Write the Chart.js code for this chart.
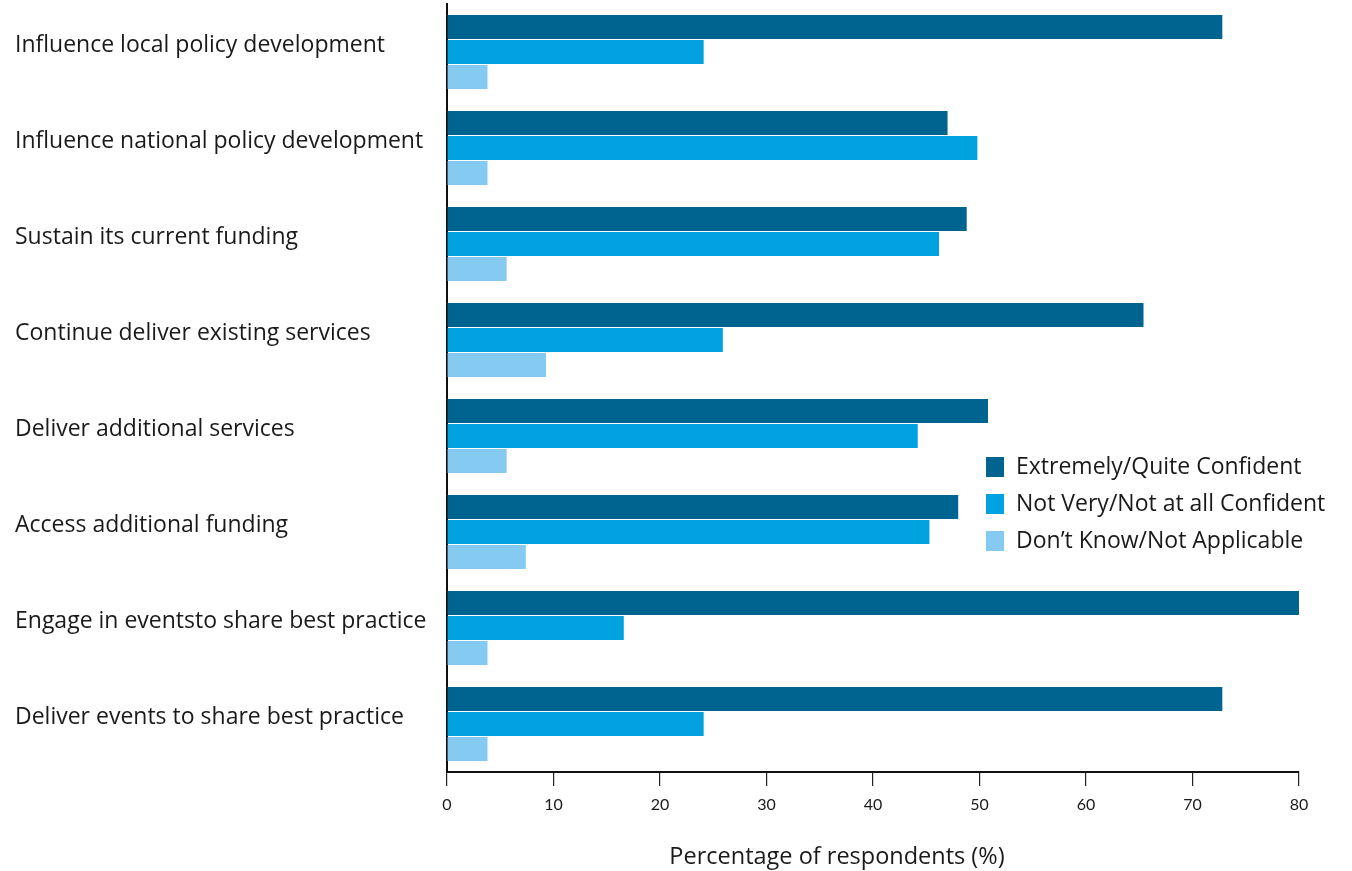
<!DOCTYPE html>
<html>
<head>
<meta charset="utf-8">
<script src="https://cdn.jsdelivr.net/npm/chart.js@4.4.1/dist/chart.umd.min.js"></script>
<style>
  html, body { margin: 0; padding: 0; background: #fff; }
  #wrap { width: 1352px; height: 871px; }
</style>
</head>
<body>
<div id="wrap"><canvas id="chart"></canvas></div>
<script>
const categories = [
  "Influence local policy development",
  "Influence national policy development",
  "Sustain its current funding",
  "Continue deliver existing services",
  "Deliver additional services",
  "Access additional funding",
  "Engage in eventsto share best practice",
  "Deliver events to share best practice"
];
const seriesNames = ["Extremely/Quite Confident", "Not Very/Not at all Confident", "Don\u2019t Know/Not Applicable"];
const confident    = [72.8, 47.0, 48.8, 65.4, 50.8, 48.0, 80.2, 72.8];
const notConfident = [24.1, 49.8, 46.2, 25.9, 44.2, 45.3, 16.6, 24.1];
const dontKnow     = [3.8, 3.8, 5.6, 9.3, 5.6, 7.4, 3.8, 3.8];
const xTicks = [0, 10, 20, 30, 40, 50, 60, 70, 80];
const colors = ["#006491", "#00a3e0", "#85caf0"];

const FONT = "'Open Sans', Lato, sans-serif";
const TEXT = "#1a1a1a";

// legend + axis title drawn by hand
const extras = {
  id: 'extras',
  afterDraw(chart) {
    const ctx = chart.ctx;
    const area = chart.chartArea;
    ctx.save();
    ctx.font = "23px " + FONT;
    ctx.fillStyle = TEXT;
    ctx.textBaseline = "middle";
    chart.data.datasets.forEach((ds, i) => {
      const y = 467 + i * 37;
      ctx.fillStyle = ds.backgroundColor;
      ctx.fillRect(986, y - 10, 18, 20);
      ctx.fillStyle = TEXT;
      ctx.textAlign = "left";
      ctx.fillText(ds.label, 1016, y);
    });
    ctx.font = "23.5px " + FONT;
    ctx.textAlign = "center";
    ctx.fillText("Percentage of respondents (%)", (area.left + area.right) / 2 - 36, 857);
    ctx.restore();
  }
};

new Chart(document.getElementById("chart"), {
  type: 'bar',
  data: {
    labels: categories,
    datasets: [
      { label: seriesNames[0], data: confident, backgroundColor: colors[0] },
      { label: seriesNames[1], data: notConfident, backgroundColor: colors[1] },
      { label: seriesNames[2], data: dontKnow, backgroundColor: colors[2] }
    ]
  },
  options: {
    indexAxis: 'y',
    responsive: true,
    maintainAspectRatio: false,
    animation: false,
    categoryPercentage: 0.78,
    barPercentage: 0.96,
    layout: { padding: { left: 15, top: 4, right: 53, bottom: 0 } },
    plugins: {
      legend: { display: false },
      tooltip: { enabled: false }
    },
    scales: {
      x: {
        min: 0,
        max: 80,
        afterBuildTicks: (scale) => { scale.ticks = xTicks.map(v => ({ value: v })); },
        afterFit: (scale) => { scale.height = 99; },
        grid: { drawOnChartArea: false, drawTicks: true, tickLength: 14, color: '#222', lineWidth: 1.2 },
        border: { display: true, color: '#111', width: 2 },
        ticks: { font: { family: "Lato, sans-serif", size: 16 }, color: TEXT, padding: 9 }
      },
      y: {
        afterFit: (scale) => { scale.width = 432; scale.paddingTop = 0; scale.paddingBottom = 0; },
        grid: { display: false },
        border: { display: true, color: '#111', width: 2 },
        ticks: {
          crossAlign: 'far',
          labelOffset: -7,
          font: { family: FONT, size: 23 },
          color: TEXT
        }
      }
    }
  },
  plugins: [extras]
});
</script>
</body>
</html>
